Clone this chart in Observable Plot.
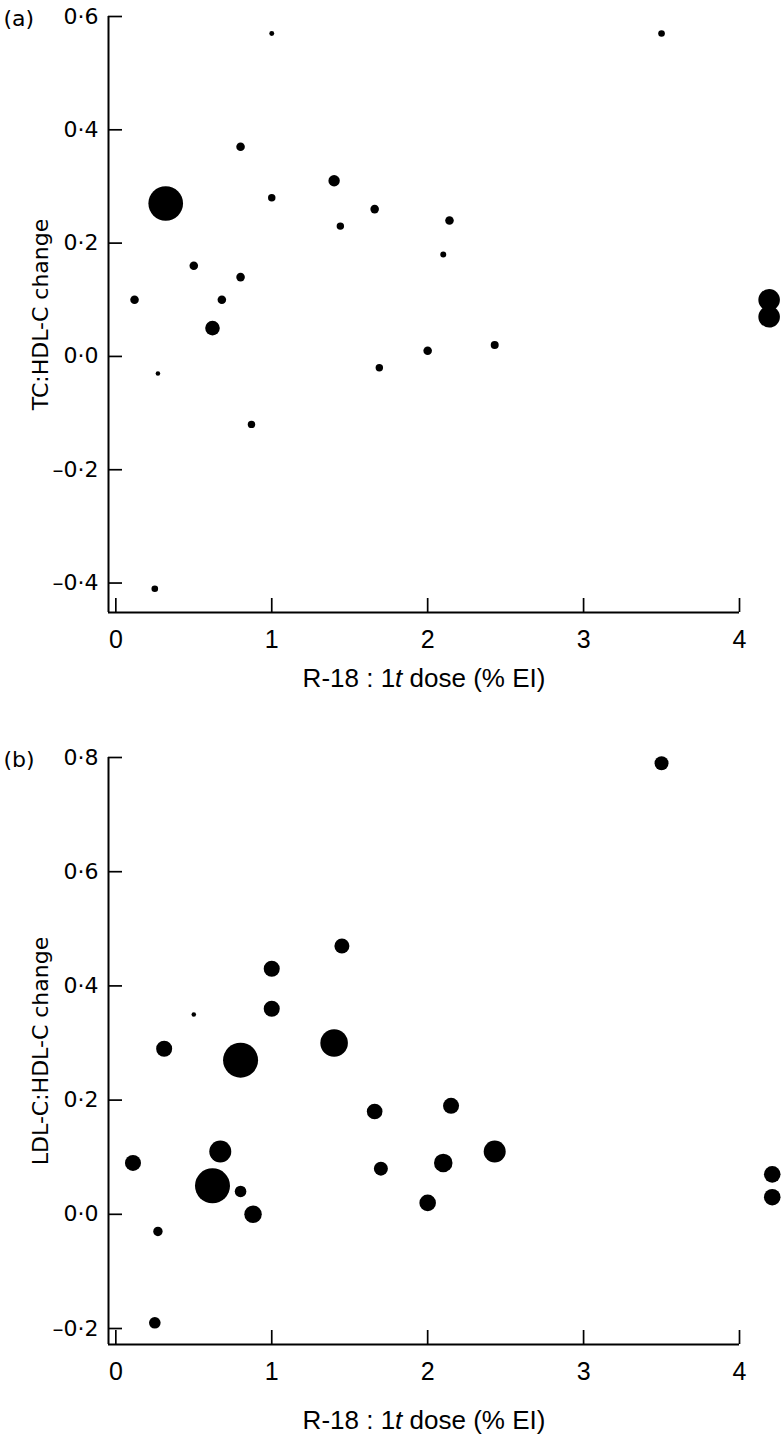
<!DOCTYPE html>
<html><head><meta charset="utf-8">
<script src="https://cdn.jsdelivr.net/npm/d3@7"></script>
<script src="https://cdn.jsdelivr.net/npm/@observablehq/plot@0.6"></script>
<style>
html,body{margin:0;padding:0;background:#fff;}
#chart svg{display:block;}
</style></head><body><div id="chart"></div>
<script>
// ---- data ----
const xTicks = [0, 1, 2, 3, 4];
const yTicksA = [-0.4, -0.2, 0, 0.2, 0.4, 0.6];
const yTicksB = [-0.2, 0, 0.2, 0.4, 0.6, 0.8];
const xTitleParts = ["R-18 : 1", "t", " dose (% EI)"];
const yLabelA = "TC:HDL-C change";
const yLabelB = "LDL-C:HDL-C change";

// panel (a): TC:HDL-C
const doseA   = [0.32, 0.80, 1.00, 1.40, 1.66, 1.44, 2.14, 2.10, 0.50, 0.80, 0.12, 0.68, 0.62, 0.27, 0.87, 1.69, 2.00, 1.00, 2.43, 0.25, 3.50, 4.19, 4.19];
const changeA = [0.27, 0.37, 0.28, 0.31, 0.26, 0.23, 0.24, 0.18, 0.16, 0.14, 0.10, 0.10, 0.05, -0.03, -0.12, -0.02, 0.01, 0.57, 0.02, -0.41, 0.57, 0.10, 0.07];
const weightA = [98, 6, 4.5, 10.6, 6, 4.5, 6, 2.9, 6, 6, 6, 6, 17.4, 1.7, 4.5, 4.5, 6, 2, 5.2, 3.6, 3.6, 38, 38];

// panel (b): LDL-C:HDL-C
const doseB   = [1.45, 1.00, 1.00, 0.50, 0.31, 0.80, 1.40, 1.66, 2.15, 0.11, 0.67, 0.62, 0.80, 0.88, 1.70, 2.10, 2.00, 0.27, 2.43, 0.25, 3.50, 4.21, 4.21];
const changeB = [0.47, 0.43, 0.36, 0.35, 0.29, 0.27, 0.30, 0.18, 0.19, 0.09, 0.11, 0.05, 0.04, 0.00, 0.08, 0.09, 0.02, -0.03, 0.11, -0.19, 0.79, 0.07, 0.03];
const weightB = [18.4, 21, 21, 1.7, 21, 100, 62, 20, 21, 21, 39.5, 100, 11, 25, 16, 28, 22.5, 7.2, 39.5, 11, 16, 22.5, 22.5];

const xDomain = [-0.047, 4];
const yDomainA = [-0.452, 0.6];
const yDomainB = [-0.228, 0.8];

const fmtY = d => (d < 0 ? "–" : "") + Math.abs(d).toFixed(1).replace(".", "·");
const xTitle = xTitleParts.join("");

function panel({x, y, w, yTicks, yDomain, letter, yLabel, height, marginTop, marginBottom, titleDy}) {
  const data = x.map((v, i) => ({x: v, y: y[i], w: w[i]}));
  const svg = Plot.plot({
    width: 784, height, marginLeft: 108, marginRight: 45, marginTop, marginBottom,
    style: {background: "white", color: "black"},
    x: {domain: xDomain},
    y: {domain: yDomain},
    r: {type: "sqrt", domain: [0, 100], range: [0, 17.5]},
    marks: [
      Plot.ruleX([xDomain[0]], {strokeWidth: 2}),
      Plot.ruleY([yDomain[0]], {strokeWidth: 2}),
      Plot.axisX({ticks: xTicks, tickFormat: d => String(d), tickSize: -14, tickPadding: 32,
        strokeWidth: 1.7, fontSize: 25, fontFamily: "Liberation Sans, Arial, sans-serif", label: null}),
      Plot.axisY({ticks: yTicks, tickFormat: fmtY, tickSize: -14, tickPadding: 24,
        strokeWidth: 1.7, fontSize: 22, fontFamily: "DejaVu Sans, sans-serif", label: null}),
      Plot.dot(data, {x: "x", y: "y", r: "w", fill: "black", stroke: null}),
      Plot.text([letter], {frameAnchor: "top-left", dx: -105, dy: 2, textAnchor: "start", lineAnchor: "middle",
        fontSize: 22, fontFamily: "DejaVu Sans, sans-serif", fill: "black"}),
      Plot.text([yLabel], {frameAnchor: "left", dx: -68, rotate: -90, lineAnchor: "middle", textAnchor: "middle",
        fontSize: 22, fontFamily: "DejaVu Sans, sans-serif", fill: "black"}),
      Plot.text([xTitle], {frameAnchor: "bottom", dy: titleDy, lineAnchor: "middle", textAnchor: "middle",
        fontSize: 26, fontFamily: "Liberation Sans, Arial, sans-serif", fill: "black"})
    ]
  });
  // italicise the "t" in the x title
  svg.querySelectorAll("text").forEach(t => {
    if (t.textContent === xTitle) {
      const ns = "http://www.w3.org/2000/svg";
      while (t.firstChild) t.removeChild(t.firstChild);
      xTitleParts.forEach((p, i) => {
        const s = document.createElementNS(ns, "tspan");
        s.textContent = p;
        if (i === 1) s.setAttribute("font-style", "italic");
        t.appendChild(s);
      });
    }
  });
  return svg;
}

const root = document.getElementById("chart");
root.appendChild(panel({x: doseA, y: changeA, w: weightA, yTicks: yTicksA, yDomain: yDomainA,
  letter: "(a)", yLabel: yLabelA, height: 720, marginTop: 16, marginBottom: 108, titleDy: 66}));
root.appendChild(panel({x: doseB, y: changeB, w: weightB, yTicks: yTicksB, yDomain: yDomainB,
  letter: "(b)", yLabel: yLabelB, height: 715, marginTop: 37, marginBottom: 91, titleDy: 76}));
</script>
</body></html>
